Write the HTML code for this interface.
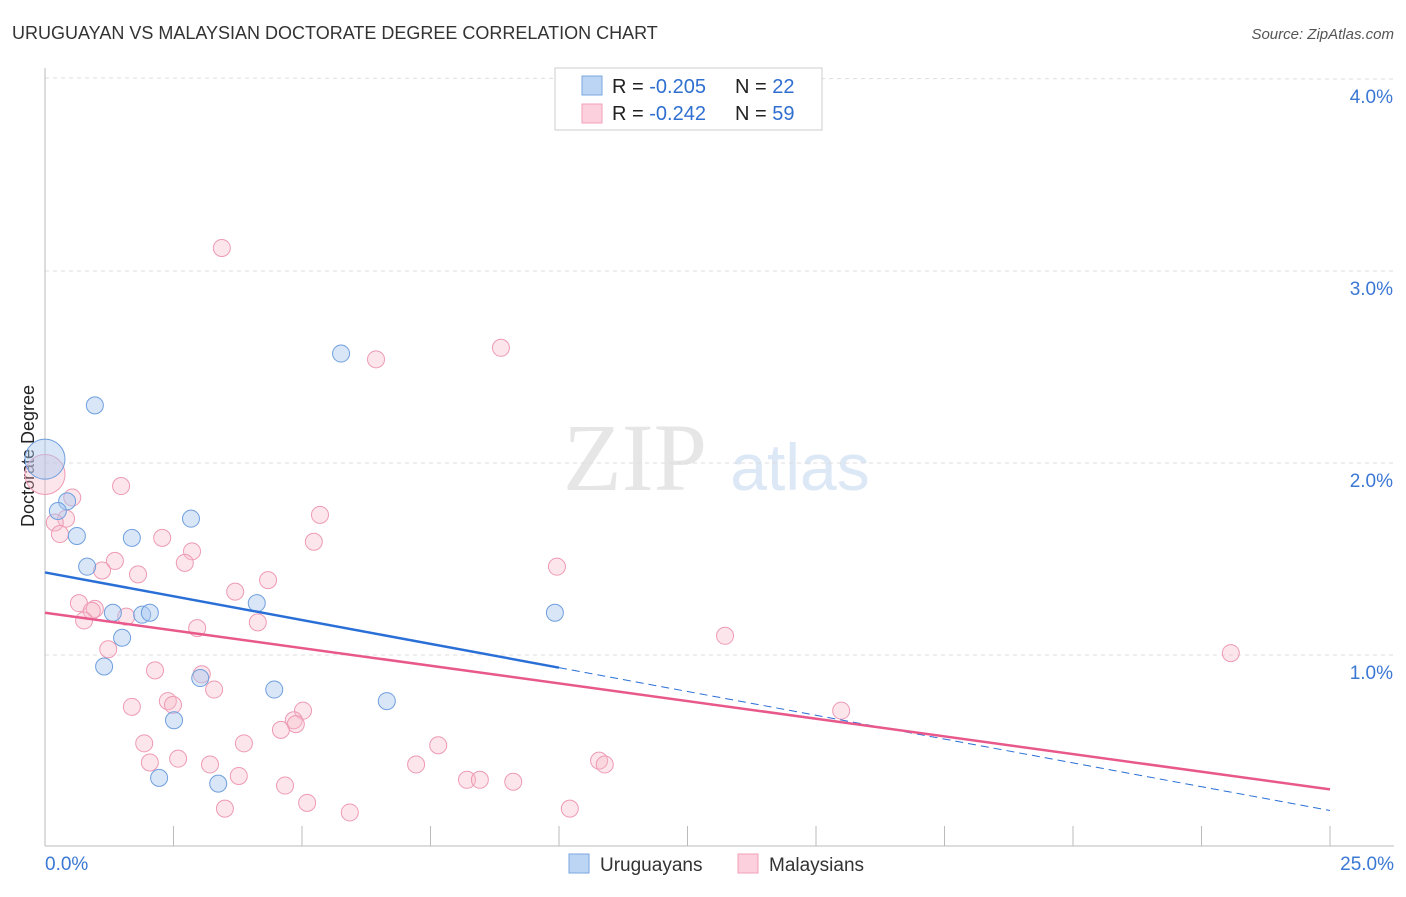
<!DOCTYPE html>
<html><head><meta charset="utf-8"><style>
body{margin:0;background:#fff;font-family:"Liberation Sans",sans-serif;}
</style></head><body>
<svg id="c" width="1406" height="892" xmlns="http://www.w3.org/2000/svg">
<text x="12" y="39" font-size="18" fill="#333">URUGUAYAN VS MALAYSIAN DOCTORATE DEGREE CORRELATION CHART</text>
<text x="1394" y="39" font-size="15" fill="#555" text-anchor="end" font-style="italic">Source: ZipAtlas.com</text>
<text x="635" y="490" font-size="96" fill="#e6e6e6" font-family="Liberation Serif,serif" text-anchor="middle">ZIP</text>
<text x="800" y="490" font-size="66" fill="#dce8f6" text-anchor="middle">atlas</text>
<text transform="translate(34,456) rotate(-90)" font-size="18" fill="#222" text-anchor="middle">Doctorate Degree</text>
<g id="grid"></g><g id="pts"></g><g id="lines"></g>
<g>
<rect x="555" y="68" width="267" height="62" fill="#fff" stroke="#ccc"/>
<rect x="582" y="76" width="20" height="19" fill="#bcd5f5" stroke="#7aa6e0"/>
<rect x="582" y="104" width="20" height="19" fill="#fcd0dc" stroke="#f0a0b8"/>
<text x="612" y="93" font-size="20" fill="#222">R = <tspan fill="#2f6fd0">-0.205</tspan><tspan x="735">N = </tspan><tspan fill="#2f6fd0">22</tspan></text>
<text x="612" y="120" font-size="20" fill="#222">R = <tspan fill="#2f6fd0">-0.242</tspan><tspan x="735">N = </tspan><tspan fill="#2f6fd0">59</tspan></text>
</g>
<g>
<rect x="569" y="854" width="20" height="19" fill="#bcd5f5" stroke="#7aa6e0"/>
<text x="600" y="871" font-size="19" fill="#333">Uruguayans</text>
<rect x="738" y="854" width="20" height="19" fill="#fcd0dc" stroke="#f0a0b8"/>
<text x="769" y="871" font-size="19" fill="#333">Malaysians</text>
</g>
</svg>
<script>
const xTicks=[0,2.5,5,7.5,10,12.5,15,17.5,20,22.5,25];
const yTicks=[1,2,3,4];
const yTickLabels=["1.0%","2.0%","3.0%","4.0%"];
const uruX=[0,0.97,5.76,0.43,0.25,0.62,1.69,2.84,0.82,1.32,1.89,2.04,1.50,4.12,9.92,1.15,3.02,2.51,4.46,6.65,2.22,3.37];
const uruY=[2.02,2.30,2.57,1.80,1.75,1.62,1.61,1.71,1.46,1.22,1.21,1.22,1.09,1.27,1.22,0.94,0.88,0.66,0.82,0.76,0.36,0.33];
const malX=[0,3.44,8.87,6.44,0.53,1.48,0.41,0.19,0.29,2.28,5.35,5.23,2.86,1.36,2.72,1.11,1.81,9.96,4.34,3.70,0.66,0.97,0.91,0.76,1.58,2.96,4.14,13.23,23.07,1.23,2.14,3.05,2.39,2.49,3.29,1.69,5.02,4.84,4.88,4.59,15.49,1.93,3.87,7.65,2.59,2.04,3.21,3.77,7.22,10.78,10.89,8.21,8.46,9.11,4.67,5.10,3.50,5.93,10.21];
const malY=[1.94,3.12,2.60,2.54,1.82,1.88,1.71,1.69,1.63,1.61,1.73,1.59,1.54,1.49,1.48,1.44,1.42,1.46,1.39,1.33,1.27,1.24,1.23,1.18,1.20,1.14,1.17,1.10,1.01,1.03,0.92,0.90,0.76,0.74,0.82,0.73,0.71,0.66,0.64,0.61,0.71,0.54,0.54,0.53,0.46,0.44,0.43,0.37,0.43,0.45,0.43,0.35,0.35,0.34,0.32,0.23,0.20,0.18,0.20];
const uruTrend=[1.43,0.19];
const malTrend=[1.22,0.30];
const NS="http://www.w3.org/2000/svg";
const X=v=>45+v*(1285/25), Y=v=>847-v*192;
function mk(t,a,p){const e=document.createElementNS(NS,t);for(const k in a)e.setAttribute(k,a[k]);p.appendChild(e);return e;}
const g=document.getElementById('grid');
yTicks.forEach((t,i)=>{
 const l=mk('line',{x1:45,x2:1394,y1:Y(t)+(t==4?-1:0),y2:Y(t),stroke:'#ddd','stroke-dasharray':'4,4'},g);
 
 
 const tx=mk('text',{x:1393,y:Y(t)+24,'font-size':19,fill:'#3a78d4','text-anchor':'end'},g);
 tx.textContent=yTickLabels[i];
 
 
});
mk('line',{x1:45,x2:45,y1:68,y2:846,stroke:'#bbb'},g);
mk('line',{x1:45,x2:1394,y1:846,y2:846,stroke:'#bbb'},g);
xTicks.forEach(t=>{const l=mk('line',{x1:X(t),x2:X(t),y1:826,y2:846,stroke:'#bbb'},g);
 
 });
let t1=mk('text',{x:45,y:870,'font-size':19,fill:'#3a78d4'},g);t1.textContent='0.0%';


let t2=mk('text',{x:1394,y:870,'font-size':19,fill:'#3a78d4','text-anchor':'end'},g);t2.textContent='25.0%';


const p=document.getElementById('pts');
malX.forEach((x,i)=>{const c=mk('circle',{cx:X(x),cy:Y(malY[i]),r:i==0?20:8.5,fill:'#f7b6c9','fill-opacity':0.35,stroke:'#ee9ab4','stroke-width':1},p);
 
 });
uruX.forEach((x,i)=>{const c=mk('circle',{cx:X(x),cy:Y(uruY[i]),r:i==0?20:8.5,fill:'#a9c8f0','fill-opacity':0.45,stroke:'#6f9fde','stroke-width':1},p);
 
 });
const L=document.getElementById('lines');
const ub=uruTrend[0]+(uruTrend[1]-uruTrend[0])*0.4;
let a=mk('line',{x1:X(0),y1:Y(uruTrend[0]),x2:X(10),y2:Y(ub),stroke:'#2a6fd6','stroke-width':2.5},L);


let b=mk('line',{x1:X(10),y1:Y(ub),x2:X(25),y2:Y(uruTrend[1]),stroke:'#2a6fd6','stroke-width':1,'stroke-dasharray':'8,5'},L);


let m=mk('line',{x1:X(0),y1:Y(malTrend[0]),x2:X(25),y2:Y(malTrend[1]),stroke:'#e8588a','stroke-width':2.5},L);


</script>
</body></html>
